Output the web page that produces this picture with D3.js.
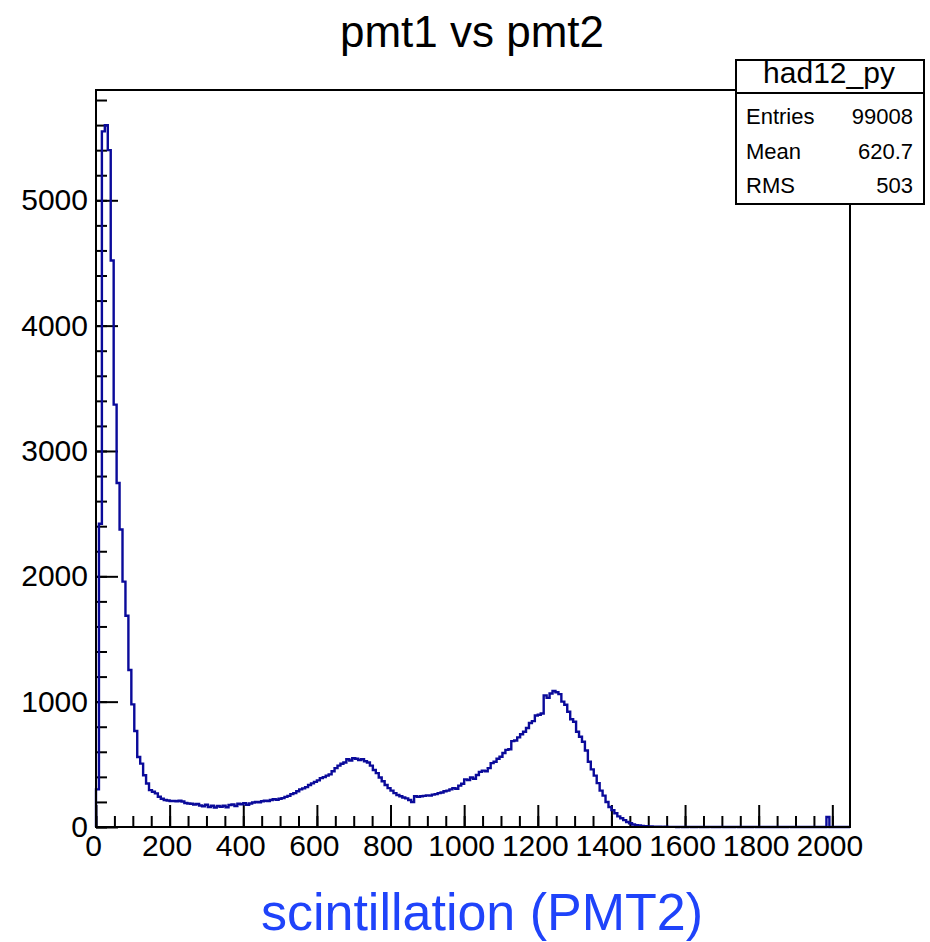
<!DOCTYPE html>
<html>
<head>
<meta charset="utf-8">
<script src="https://d3js.org/d3.v7.min.js"></script>
<style>
  body { margin: 0; background: #ffffff; }
  svg { display: block; font-family: "Liberation Sans", Arial, Helvetica, sans-serif; }
</style>
</head>
<body>
<svg id="drawing_region"></svg>
<script>
// histogram had12_py : 256 bins of width 8 from 0 to 2048
const binLow = 0;
const binWidth = 8;
const counts = [
    300, 2420, 5550, 5600, 5400, 4520, 3370, 2745, 2374, 1958, 1685, 1253, 978, 766, 559, 506,
    413, 347, 294, 281, 268, 241, 225, 215, 212, 208, 207, 205, 209, 203, 192, 188,
    185, 180, 183, 172, 165, 178, 160, 170, 155, 168, 162, 170, 158, 175, 180, 168,
    185, 182, 190, 178, 188, 195, 200, 198, 205, 210, 208, 215, 222, 218, 225, 230,
    240, 248, 262, 270, 285, 300, 308, 318, 335, 348, 360, 372, 390, 398, 410, 420,
    445, 470, 490, 505, 515, 540, 530, 548, 545, 535, 540, 525, 515, 490, 455, 430,
    395, 365, 335, 310, 290, 270, 255, 245, 235, 228, 215, 200, 245, 240, 245, 248,
    252, 250, 258, 262, 270, 275, 285, 290, 300, 310, 305, 330, 345, 380, 375, 395,
    385, 415, 440, 450, 445, 470, 510, 520, 545, 560, 590, 615, 620, 685, 690, 715,
    740, 760, 790, 830, 845, 890, 895, 905, 1050, 1030, 1065, 1085, 1075, 1060, 1000, 975,
    920, 860, 840, 760, 720, 680, 610, 520, 460, 410, 350, 290, 250, 200, 160, 135,
    110, 85, 70, 55, 40, 30, 20, 15, 12, 8, 6, 5, 4, 3, 2, 2,
    1, 2, 1, 1, 1, 0, 1, 0, 0, 1, 0, 0, 1, 0, 0, 0,
    1, 0, 0, 0, 1, 0, 0, 0, 0, 1, 0, 0, 0, 0, 0, 1,
    0, 0, 0, 0, 0, 0, 0, 0, 0, 0, 0, 1, 0, 0, 0, 0,
    0, 0, 0, 0, 0, 0, 0, 0, 80, 0, 0, 0, 0, 0, 0, 0
];

const xTicks = [0, 200, 400, 600, 800, 1000, 1200, 1400, 1600, 1800, 2000];
const yTicks = [0, 1000, 2000, 3000, 4000, 5000];
const xMinorStep = 50;
const yMinorStep = 200;

const titleText = "pmt1 vs pmt2";
const xLabel = "scintillation (PMT2)";
const statsName = "had12_py";
const statsRows = [["Entries", "99008"], ["Mean", "620.7"], ["RMS", "503"]];

class Histogram {

    constructor( config ) {
        this.config = config;
        this.init();
    }

    init() {
        let self = this;

        self.svg = d3.select( self.config.parent )
            .attr('width', self.config.width)
            .attr('height', self.config.height);

        const m = self.config.margin;
        self.inner_width = self.config.width - m.left - m.right;
        self.inner_height = self.config.height - m.top - m.bottom;

        self.chart = self.svg.append('g')
            .attr('transform', `translate(${m.left}, ${m.top})`);

        const xMax = binLow + counts.length * binWidth;
        self.xscale = d3.scaleLinear()
            .domain([binLow, xMax])
            .range([0, self.inner_width]);

        self.yscale = d3.scaleLinear()
            .domain([0, d3.max(counts) * 1.05])
            .range([self.inner_height, 0]);
    }

    render() {
        let self = this;
        const W = self.inner_width, H = self.inner_height;
        const xMax = binLow + counts.length * binWidth;

        // minor ticks
        self.chart.append('g')
            .attr('transform', `translate(0, ${H})`)
            .call( d3.axisBottom(self.xscale)
                .tickValues(d3.range(0, xMax, xMinorStep))
                .tickSizeInner(-11).tickSizeOuter(0).tickFormat('') );
        self.chart.append('g')
            .call( d3.axisLeft(self.yscale)
                .tickValues(d3.range(0, self.yscale.domain()[1], yMinorStep))
                .tickSizeInner(-11).tickSizeOuter(0).tickFormat('') );

        // major ticks with labels
        self.xaxis_group = self.chart.append('g')
            .attr('transform', `translate(0, ${H})`)
            .call( d3.axisBottom(self.xscale)
                .tickValues(xTicks)
                .tickFormat(d3.format('d'))
                .tickSizeInner(-22).tickSizeOuter(0).tickPadding(8) );
        self.yaxis_group = self.chart.append('g')
            .call( d3.axisLeft(self.yscale)
                .tickValues(yTicks)
                .tickFormat(d3.format('d'))
                .tickSizeInner(-22).tickSizeOuter(0).tickPadding(8) );

        self.chart.selectAll('.tick line')
            .attr('stroke', '#000')
            .attr('stroke-width', 2);
        self.chart.selectAll('.domain').remove();

        self.xaxis_group.selectAll('text')
            .attr('font-size', 30)
            .attr('fill', '#000')
            .attr('dx', -3);
        self.yaxis_group.selectAll('text')
            .attr('font-size', 30)
            .attr('fill', '#000');

        // histogram outline
        let pts = [[binLow, 0]];
        counts.forEach( (c, i) => {
            const x0 = binLow + i * binWidth;
            pts.push([x0, c]);
            pts.push([x0 + binWidth, c]);
        });
        pts.push([xMax, 0]);

        self.chart.append('path')
            .attr('d', d3.line()
                .x( d => self.xscale(d[0]) )
                .y( d => self.yscale(d[1]) )(pts))
            .attr('fill', 'none')
            .attr('stroke', '#0a0a9a')
            .attr('stroke-width', 2.4);

        // frame
        self.chart.append('rect')
            .attr('x', 0).attr('y', 0)
            .attr('width', W).attr('height', H)
            .attr('fill', 'none')
            .attr('stroke', '#000')
            .attr('stroke-width', 2);

        // title
        self.svg.append('text')
            .attr('x', 472)
            .attr('y', 47)
            .attr('text-anchor', 'middle')
            .attr('font-size', 44)
            .text(titleText);

        // x label
        self.svg.append('text')
            .attr('x', 482)
            .attr('y', 930)
            .attr('text-anchor', 'middle')
            .attr('font-size', 52)
            .attr('fill', '#1f43fa')
            .text(xLabel);

        // stats box
        const box = self.svg.append('g');
        box.append('rect')
            .attr('x', 736).attr('y', 60)
            .attr('width', 188).attr('height', 144)
            .attr('fill', '#fff')
            .attr('stroke', '#000')
            .attr('stroke-width', 2);
        box.append('line')
            .attr('x1', 736).attr('x2', 924)
            .attr('y1', 93).attr('y2', 93)
            .attr('stroke', '#000')
            .attr('stroke-width', 2);
        box.append('text')
            .attr('x', 829).attr('y', 83)
            .attr('text-anchor', 'middle')
            .attr('font-size', 30)
            .text(statsName);
        statsRows.forEach( (r, i) => {
            box.append('text')
                .attr('x', 746).attr('y', 124 + i * 34.5)
                .attr('font-size', 22)
                .text(r[0]);
            box.append('text')
                .attr('x', 913).attr('y', 124 + i * 34.5)
                .attr('text-anchor', 'end')
                .attr('font-size', 22)
                .text(r[1]);
        });
    }
}

const config = {
    parent: '#drawing_region',
    width: 930,
    height: 942,
    margin: {top: 90, right: 80, bottom: 115, left: 96}
};

const hist = new Histogram( config );
hist.render();
</script>
</body>
</html>
